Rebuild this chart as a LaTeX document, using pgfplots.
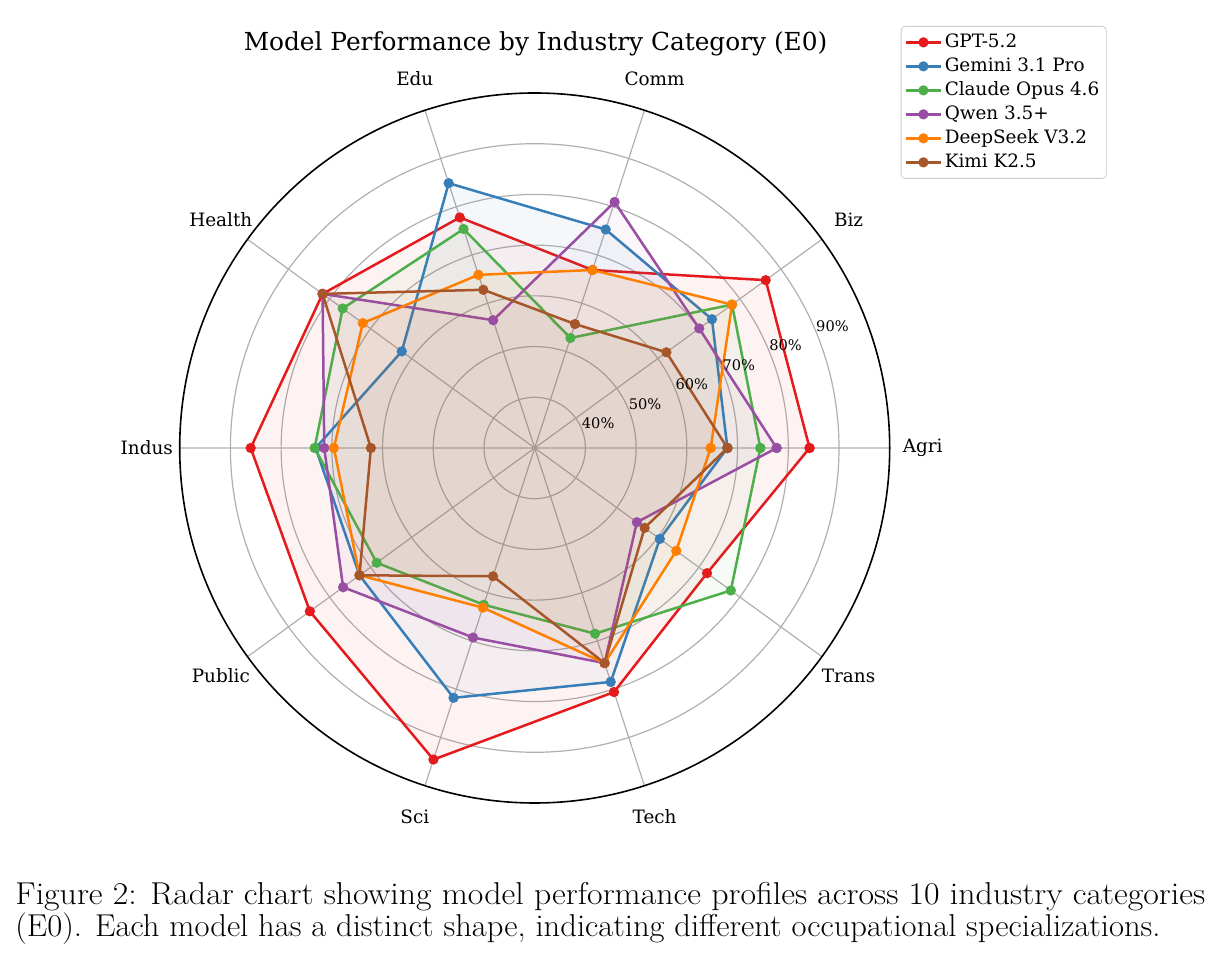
\documentclass[border=0pt]{standalone}
\usepackage{pgfplots}
\pgfplotsset{compat=1.18}
\usepgfplotslibrary{polar}
\usepackage{fontspec}
\newfontfamily\djv{DejaVu Serif}
\definecolor{cA}{HTML}{E41A1C}
\definecolor{cB}{HTML}{377EB8}
\definecolor{cC}{HTML}{4DAF4A}
\definecolor{cD}{HTML}{984EA3}
\definecolor{cE}{HTML}{FF7F00}
\definecolor{cF}{HTML}{A65628}
\definecolor{gridgray}{HTML}{B0B0B0}
\begin{document}
\begin{tikzpicture}
\path[use as bounding box] (0,0) rectangle (609.5pt,480.5pt);
\begin{polaraxis}[
  at={(267.35pt,256.5pt)}, anchor=center,
  width=355pt, height=355pt, scale only axis,
  ymin=30, ymax=100,
  y coord trafo/.code={\pgfmathparse{#1-30}},
  y coord inv trafo/.code={\pgfmathparse{#1+30}},
  xtick={0,36,...,324}, xticklabels={},
  ytick={40,50,...,90}, yticklabels={},
  major tick length=0pt,
  grid=major,
  major grid style={draw=gridgray, line width=0.6pt},
  separate axis lines,
  x axis line style={black, line width=0.8pt},
  y axis line style={draw=none},
  clip=false,
  every axis plot/.append style={line width=1.25pt, mark=*, mark size=1.9pt, fill opacity=0.05, mark options={solid, fill opacity=1}},
  legend style={at={(1.0155,1.0944)}, anchor=north west, draw=black!20, rounded corners=2pt,
    font=\djv\fontsize{9.2}{11}\selectfont, inner xsep=2pt, inner ysep=2pt,
    nodes={inner sep=1.5pt, text height=7pt, text depth=2pt}},
  legend cell align=left,
]
\addplot[color=cA, fill=cA] coordinates {(0,84.2) (36,86.3) (72,66.9) (108,77.8) (144,81.7) (180,86.0) (216,84.8) (252,94.6) (288,80.6) (324,72.0) (360,84.2)};
\addlegendentry{GPT-5.2}
\addplot[color=cB, fill=cB] coordinates {(0,68.0) (36,73.2) (72,75.3) (108,84.9) (144,62.4) (180,73.2) (216,72.7) (252,81.8) (288,78.5) (324,60.5) (360,68.0)};
\addlegendentry{Gemini 3.1 Pro}
\addplot[color=cC, fill=cC] coordinates {(0,74.5) (36,78.1) (72,52.8) (108,75.4) (144,76.8) (180,73.4) (216,68.5) (252,62.5) (288,68.5) (324,77.8) (360,74.5)};
\addlegendentry{Claude Opus 4.6}
\addplot[color=cD, fill=cD] coordinates {(0,77.7) (36,70.1) (72,81.0) (108,56.5) (144,81.7) (180,71.5) (216,76.7) (252,69.3) (288,74.6) (324,54.9) (360,77.7)};
\addlegendentry{Qwen 3.5+}
\addplot[color=cE, fill=cE] coordinates {(0,64.7) (36,78.1) (72,66.9) (108,65.9) (144,71.9) (180,69.6) (216,72.7) (252,63.1) (288,74.6) (324,64.5) (360,64.7)};
\addlegendentry{DeepSeek V3.2}
\addplot[color=cF, fill=cF] coordinates {(0,68.0) (36,62.1) (72,55.7) (108,62.8) (144,81.7) (180,62.3) (216,72.7) (252,56.6) (288,74.6) (324,56.8) (360,68.0)};
\addlegendentry{Kimi K2.5}
\begin{scope}[every node/.style={font=\djv\fontsize{9.2}{11}\selectfont}]
\node at (axis cs:0,106.5) {Agri};
\node at (axis cs:36,106.5) {Biz};
\node at (axis cs:72,106.5) {Comm};
\node at (axis cs:108,106.5) {Edu};
\node at (axis cs:144,106.5) {Health};
\node at (axis cs:180,106.5) {Indus};
\node at (axis cs:216,106.5) {Public};
\node at (axis cs:252,106.5) {Sci};
\node at (axis cs:288,106.5) {Tech};
\node at (axis cs:324,106.5) {Trans};
\end{scope}
\begin{scope}[every node/.style={anchor=base west, inner sep=0pt, font=\djv\fontsize{7.3}{8}\selectfont}]
\node at (axis cs:22.5,40) {40\%};
\node at (axis cs:22.5,50) {50\%};
\node at (axis cs:22.5,60) {60\%};
\node at (axis cs:22.5,70) {70\%};
\node at (axis cs:22.5,80) {80\%};
\node at (axis cs:22.5,90) {90\%};
\end{scope}
\end{polaraxis}
\node[anchor=base, font=\djv\fontsize{12.4}{14}\selectfont] at (267.75pt,455pt) {Model Performance by Industry Category (E0)};
\node[anchor=base west, inner sep=0pt, font=\fontsize{15.8}{17}\selectfont] at (7.5pt,28pt) {\scalebox{1.07}[1]{Figure 2: Radar chart showing model performance profiles across 10 industry categories}};
\node[anchor=base west, inner sep=0pt, font=\fontsize{15.8}{17}\selectfont] at (7.5pt,12pt) {\scalebox{1.031}[1]{(E0). Each model has a distinct shape, indicating different occupational specializations.}};
\end{tikzpicture}
\end{document}
